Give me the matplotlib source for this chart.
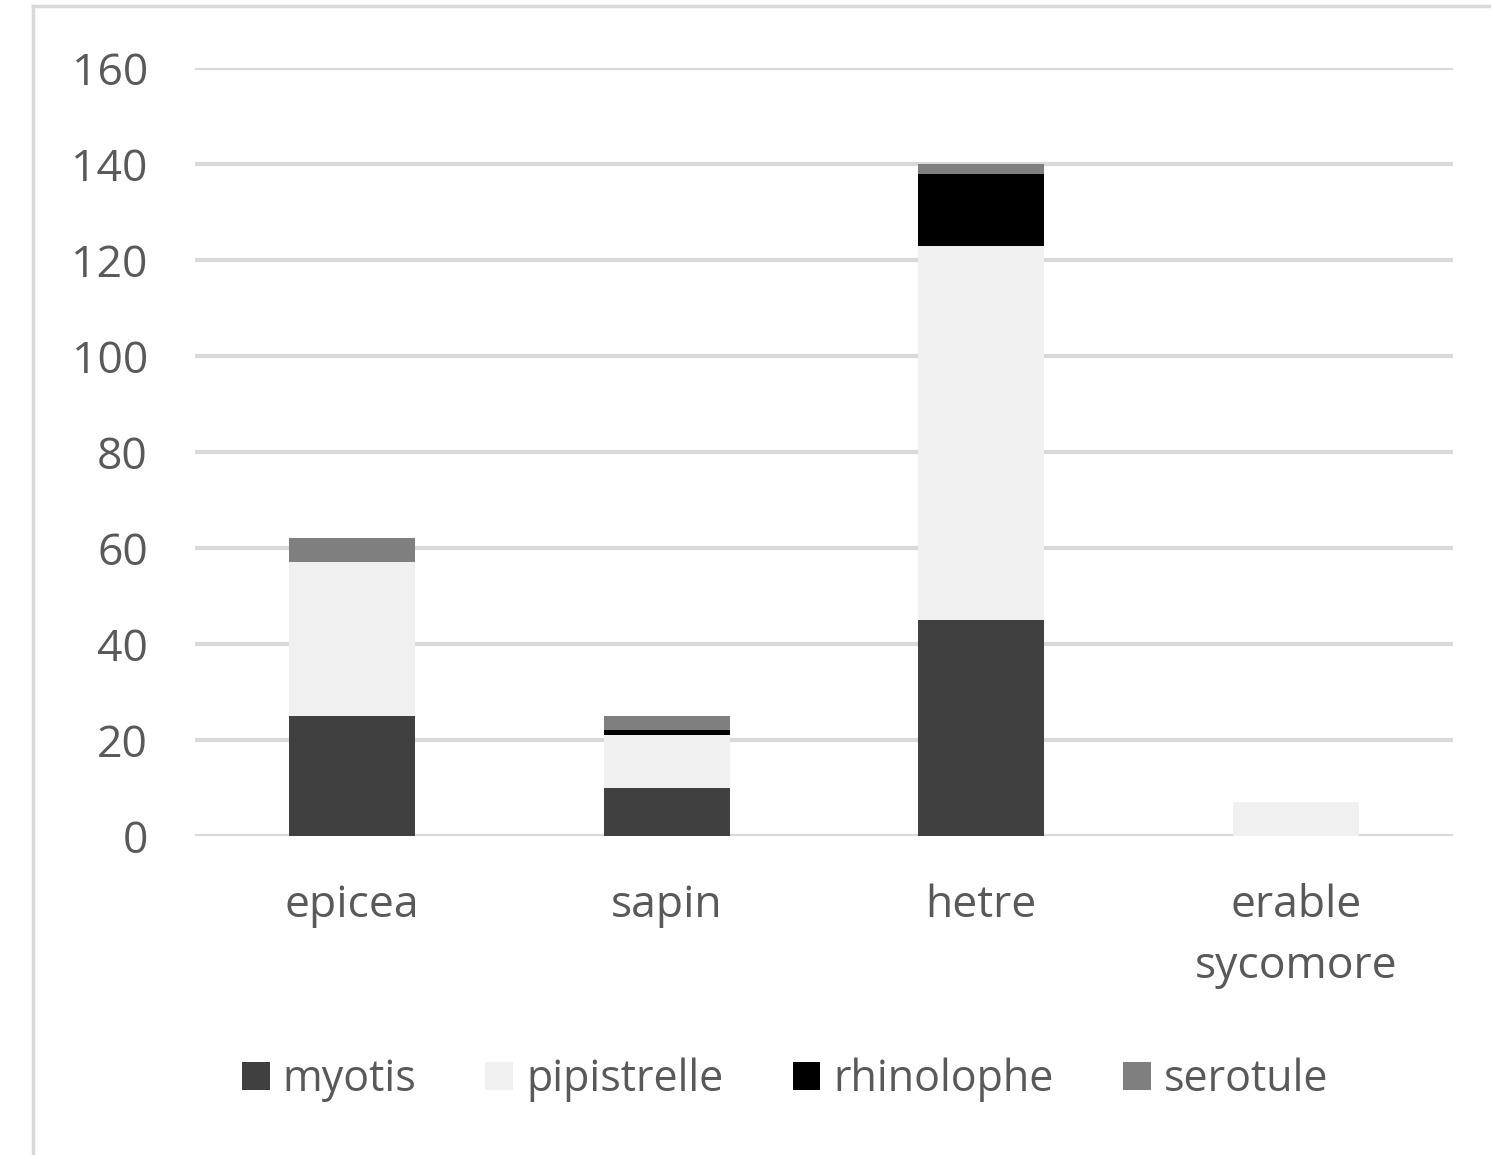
import numpy as np
import matplotlib.pyplot as plt
from matplotlib.lines import Line2D

plt.rcParams['font.family'] = ['Open Sans', 'DejaVu Sans']

categories = ['epicea', 'sapin', 'hetre', 'erable\nsycomore']
myotis = [25, 10, 45, 0]
pipistrelle = [32, 11, 78, 7]
rhinolophe = [0, 1, 15, 0]
serotule = [5, 3, 2, 0]

series = [('myotis', myotis, '#404040'),
          ('pipistrelle', pipistrelle, '#f0f0f0'),
          ('rhinolophe', rhinolophe, '#000000'),
          ('serotule', serotule, '#7f7f7f')]

fig = plt.figure(figsize=(14.91, 11.55), dpi=100)
ax = fig.add_axes([195 / 1491, 1 - 836 / 1155, (1453 - 195) / 1491, (836 - 68) / 1155])

x = np.arange(len(categories))
bottom = np.zeros(len(categories))
handles = []
for name, vals, col in series:
    b = ax.bar(x, vals, width=0.4, bottom=bottom, color=col, label=name, zorder=3)
    bottom += np.array(vals)
    handles.append(b)

ax.set_xlim(-0.5, 3.5)
ax.set_ylim(0, 160)
ax.set_yticks(range(0, 161, 20))
ax.set_xticks(x)
ax.set_xticklabels(categories, linespacing=1.5)
ax.yaxis.grid(True, color='#d9d9d9', linewidth=3, zorder=0)
ax.set_axisbelow(True)
for s in ax.spines.values():
    s.set_visible(False)
ax.tick_params(axis='both', length=0, labelsize=32, labelcolor='#595959')
ax.tick_params(axis='y', pad=34)
ax.tick_params(axis='x', pad=34)

fig.legend(handles=handles, loc='center', bbox_to_anchor=(785 / 1491, 1 - 1080 / 1155),
           ncol=4, frameon=False, fontsize=31, labelcolor='#595959',
           handlelength=0.65, handleheight=0.65, handletextpad=0.3, columnspacing=1.6)

# chart area border (cropped on right/bottom)
fig.add_artist(Line2D([33 / 1491, 33 / 1491], [0, 1 - 6 / 1155], transform=fig.transFigure,
                      color='#d9d9d9', linewidth=2.5))
fig.add_artist(Line2D([33 / 1491, 1], [1 - 6 / 1155, 1 - 6 / 1155], transform=fig.transFigure,
                      color='#d9d9d9', linewidth=2.5))

fig.savefig('out.png', dpi=100, facecolor='white')
